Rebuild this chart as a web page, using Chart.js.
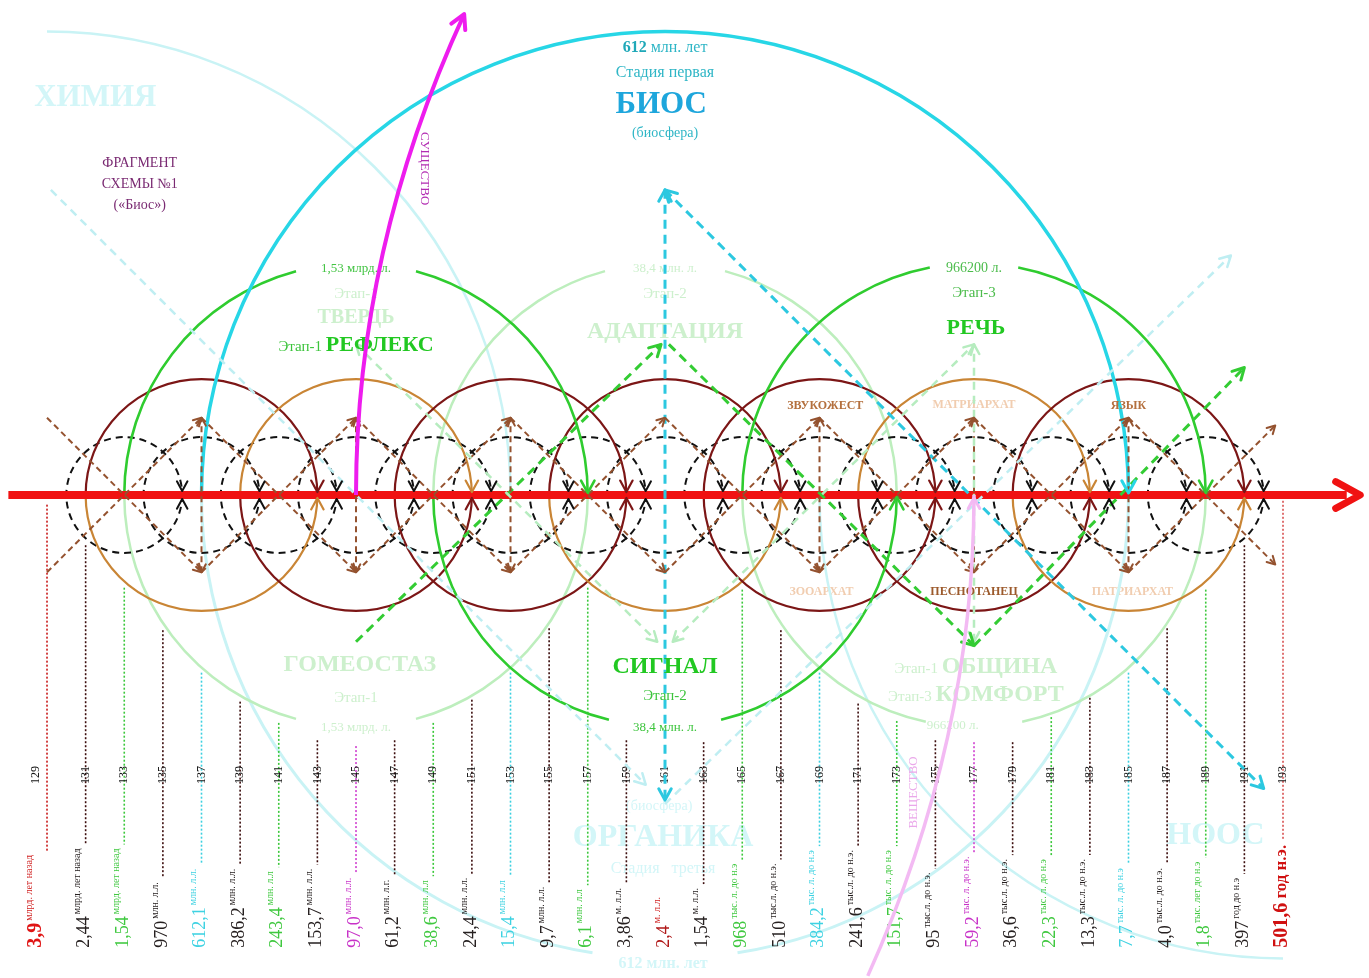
<!DOCTYPE html>
<html lang="ru">
<head>
<meta charset="utf-8">
<title>Фрагмент схемы №1 «Биос»</title>
<script src="https://cdn.jsdelivr.net/npm/chart.js@4.4.1/dist/chart.umd.min.js"></script>
<style>
  html, body { margin: 0; padding: 0; background: #fff; }
  canvas { display: block; }
</style>
</head>
<body>
<canvas id="scheme" width="1369" height="978"></canvas>
<script>
const tickValues = [129, 131, 133, 135, 137, 139, 141, 143, 145, 147, 149, 151, 153, 155, 157, 159, 161,
                    163, 165, 167, 169, 171, 173, 175, 177, 179, 181, 183, 185, 187, 189, 191, 193]

// where each dotted drop line starts below the axis (null = drawn as the cyan arrow)
const lineTops = [-0.5, -2.6, -4.8, -7, -9.2, -10.7, -11.8, -12.7, -13, -12.7, -11.8, -10.6, -9.2, -6.9, -4.8, -12.7, null,
                  -12.8, -4.9, -7, -9.2, -10.8, -11.7, -12.7, -12.8, -12.8, -11.5, -10.5, -9.2, -6.9, -4.9, -2.6, -0.3]

const bigNumbers = ['3,9', '2,44', '1,54', '970', '612,1', '386,2', '243,4', '153,7', '97,0', '61,2', '38,6',
                    '24,4', '15,4', '9,7', '6,1', '3,86', '2,4', '1,54', '968', '510', '384,2', '241,6', '151,7',
                    '95', '59,2', '36,6', '22,3', '13,3', '7,7', '4,0', '1,8', '397', '501,6']

const unitLabels = ['млрд. лет назад', 'млрд. лет назад', 'млрд. лет назад', 'млн. л.л.', 'млн. л.л.', 'млн. л.л.',
                    'млн. л.л', 'млн. л.л.', 'млн. л.л.', 'млн. л.г.', 'млн. л.л', 'млн. л.л.', 'млн. л.л', 'млн. л.л.',
                    'млн. л.л', 'м. л.л.', 'м. л.л.', 'м. л.л.', 'тыс. л. до н.э', 'тыс.л. до н.э.', 'тыс. л. до н.э',
                    'тыс.л. до н.э.', 'тыс. л. до н.э', 'тыс.л. до н.э.', 'тыс. л. до н.э.', 'тыс.л. до н.э.',
                    'тыс. л. до н.э', 'тыс.л. до н.э.', 'тыс. л. до н.э', 'тыс.л. до н.э.', 'тыс. лет до н.э',
                    'год до н.э', 'год н.э.']

const RED = '#e01414', DARK = '#262020', GRN = '#3fc83f', CYN = '#3ed2e2', MAG = '#c832c8'
const labelColors = [RED, DARK, GRN, DARK, CYN, DARK, GRN, DARK, MAG, DARK, GRN, DARK, CYN, DARK, GRN, DARK, '#b01818',
                     DARK, GRN, DARK, CYN, DARK, GRN, DARK, MAG, DARK, GRN, DARK, CYN, DARK, GRN, DARK, '#d01010']
const LDK = '#3c0d0d'
const lineColors = ['#c81818', LDK, '#3cc83c', LDK, '#3cd0e0', LDK, '#3cc83c', LDK, '#d040d0', LDK, '#3cc83c', LDK,
                    '#3cd0e0', LDK, '#3cc83c', LDK, '#2cc8e0', LDK, '#3cc83c', LDK, '#3cd0e0', LDK, '#3cc83c', LDK,
                    '#d040d0', LDK, '#3cc83c', LDK, '#3cd0e0', LDK, '#3cc83c', LDK, '#d85050']

// black dashed rings on the axis
const ringCenters = [133, 137, 141, 145, 149, 153, 157, 161, 165, 169, 173, 177, 181, 185, 189]
const ringRadius = 3

// maroon / orange wave circles
const waveCenters = [137, 145, 153, 161, 169, 177, 185]
const waveRadius = 6
const waveTop = ['m', 'o', 'm', 'm', 'm', 'o', 'm']
const waveBottom = ['o', 'm', 'm', 'o', 'm', 'm', 'o']

// green stage circles (Этап)
const stageCenters = [145, 161, 177]
const stageRadius = 12
const stageTopBright = [true, false, true]
const stageGapTop = [15, 15, 11]
const stageGapBottom = [15, 14, 12]

// large cyan spheres: ХИМИЯ, БИОС, НООС
const sphereCenters = [129, 161, 193]
const sphereRadius = 24

// dashed straight links [x0, y0, x1, y1]
const brownDiagonals = [
  [129, 4, 137, -4], [129, -4, 137, 4], [137, 4, 145, -4], [137, -4, 145, 4],
  [145, 4, 153, -4], [145, -4, 153, 4], [153, 4, 161, -4], [153, -4, 161, 4],
  [161, 4, 169, -4], [161, -4, 169, 4], [169, 4, 177, -4], [169, -4, 177, 4],
  [177, 4, 185, -4], [177, -4, 185, 4], [185, 4, 192.6, -3.6], [185, -4, 192.6, 3.6]
]
const brownVerticals = [[137, -4, 137, 4], [145, -4, 145, 4], [153, -4, 153, 4], [169, -4, 169, 4],
                        [177, -4, 177, 4], [185, -4, 185, 4]]
const greenLinks = [[145, -7.6, 160.8, 7.8], [161.2, 7.8, 177, -7.8], [177, -7.8, 191, 6.6]]
const paleGreenLinks = [[145, 7.8, 160.6, -7.6], [161.4, -7.6, 177, 7.8], [177, -7.6, 177, 7.8]]
const cyanLinks = [[161, 15.8, 192, -15.2], [161, 15.8, 161, -15.8]]
const paleCyanLinks = [[129.2, 15.8, 160, -15], [161, -16, 190.3, 12.4]]

// curves: start, control, end
const substanceCurve = [145, 0, 145, 12.7, 150.6, 24.9]     // СУЩЕСТВО
const matterCurve = [177, 0, 177, -12.7, 171.5, -24.9]       // ВЕЩЕСТВО

// ---- layout / styles ----
const X_MIN = 126.566, X_MAX = 197.453, Y_MIN = -25.01, Y_MAX = 25.631
const SERIF = '"Liberation Serif", "DejaVu Serif", serif'
const MAROON = '#7c1616', ORANGE = '#c98535'
const BRIGHT_GREEN = '#2fcc2f', PALE_GREEN = '#bdeebd'
const PALE_CYAN = '#c9f3f5', TEAL = '#2fb6c6'
const FAINT_GREEN = '#cdf0cd', FAINT_CYAN = '#d3f6f8'

const annotations = [
  { x: 161, y: 23.2, parts: [['612', 'bold 16px', '#1fa8b8'], [' млн. лет', '16px', TEAL]] },
  { x: 161, y: 21.9, parts: [['Стадия первая', '16px', TEAL]] },
  { x: 160.8, y: 20.3, parts: [['БИОС', 'bold 31px', '#1ea6dc']] },
  { x: 161, y: 18.8, parts: [['(биосфера)', '14px', TEAL]] },
  { x: 133.8, y: 17.24, parts: [['ФРАГМЕНТ', '14px', '#7a2a72']] },
  { x: 133.8, y: 16.16, parts: [['СХЕМЫ №1', '14px', '#7a2a72']] },
  { x: 133.8, y: 15.07, parts: [['(«Биос»)', '14px', '#7a2a72']] },
  { x: 145, y: 11.8, parts: [['1,53 млрд. л.', '13px', '#44c444']] },
  { x: 145, y: 7.85, parts: [['Этап-1 ', '15px', '#3cc43c'], ['РЕФЛЕКС', 'bold 22px', '#22c822']] },
  { x: 177, y: 11.8, parts: [['966200 л.', '14px', '#4cbc4c']] },
  { x: 177, y: 10.5, parts: [['Этап-3', '15px', '#4cbc4c']] },
  { x: 177.1, y: 8.7, parts: [['РЕЧЬ', 'bold 22px', '#22c822']] },
  { x: 169.3, y: 4.66, parts: [['ЗВУКОЖЕСТ', 'bold 12px', '#b4703e']] },
  { x: 185, y: 4.66, parts: [['ЯЗЫК', 'bold 12px', '#b4703e']] },
  { x: 177, y: -4.97, parts: [['ПЕСНОТАНЕЦ', 'bold 12px', '#9c5a2c']] },
  { x: 161, y: -8.8, parts: [['СИГНАЛ', 'bold 24px', '#22c822']] },
  { x: 161, y: -10.36, parts: [['Этап-2', '15px', '#3cc43c']] },
  { x: 161, y: -12.0, parts: [['38,4 млн. л.', '13px', '#3cc43c']] }
]
const faintAnnotations = [
  { x: 131.5, y: 20.7, parts: [['ХИМИЯ', 'bold 31px', FAINT_CYAN]] },
  { x: 145, y: 10.46, parts: [['Этап-1', '15px', FAINT_GREEN]] },
  { x: 145, y: 9.27, parts: [['ТВЕРДЬ', 'bold 20px', FAINT_GREEN]] },
  { x: 161, y: 11.8, parts: [['38,4 млн. л.', '13px', FAINT_GREEN]] },
  { x: 161, y: 10.46, parts: [['Этап-2', '15px', FAINT_GREEN]] },
  { x: 161, y: 8.54, parts: [['АДАПТАЦИЯ', 'bold 24px', FAINT_GREEN]] },
  { x: 177, y: 4.7, parts: [['МАТРИАРХАТ', 'bold 12px', '#f1cdb0']] },
  { x: 169.1, y: -4.97, parts: [['ЗООАРХАТ', 'bold 12px', '#f1cdb0']] },
  { x: 185.2, y: -4.97, parts: [['ПАТРИАРХАТ', 'bold 12px', '#f1cdb0']] },
  { x: 145.2, y: -8.7, parts: [['ГОМЕОСТАЗ', 'bold 24px', FAINT_GREEN]] },
  { x: 145, y: -10.46, parts: [['Этап-1', '15px', FAINT_GREEN]] },
  { x: 145, y: -12.0, parts: [['1,53 млрд. л.', '13px', FAINT_GREEN]] },
  { x: 177.1, y: -8.8, parts: [['Этап-1 ', '15px', FAINT_GREEN], ['ОБЩИНА', 'bold 24px', FAINT_GREEN]] },
  { x: 177.1, y: -10.25, parts: [['Этап-3 ', '15px', FAINT_GREEN], ['КОМФОРТ', 'bold 24px', FAINT_GREEN]] },
  { x: 175.9, y: -11.9, parts: [['966200 л.', '13px', FAINT_GREEN]] },
  { x: 160.7, y: -16.05, parts: [['(биосфера)', '14px', FAINT_CYAN]] },
  { x: 160.9, y: -17.6, parts: [['ОРГАНИКА', 'bold 32px', FAINT_CYAN]] },
  { x: 160.9, y: -19.3, parts: [['Стадия   третья', '16px', FAINT_CYAN]] },
  { x: 160.9, y: -24.2, parts: [['612 млн. лет', 'bold 16px', FAINT_CYAN]] },
  { x: 189.5, y: -17.5, parts: [['НООС', 'bold 32px', FAINT_CYAN]] }
]

const linkGroups = [
  { segs: paleCyanLinks, color: '#bfeef2', width: 2.5, dash: [8, 6], arrow: 'end', size: 12 },
  { segs: paleGreenLinks, color: '#b6ecbf', width: 2.5, dash: [8, 6], arrow: 'both', size: 11 },
  { segs: brownDiagonals, color: '#94522f', width: 2, dash: [6, 4], arrow: 'end', size: 9 },
  { segs: brownVerticals, color: '#94522f', width: 2, dash: [6, 4], arrow: 'both', size: 9 },
  { segs: greenLinks, color: '#33cc33', width: 3, dash: [9, 6], arrow: 'end', size: 13 },
  { segs: cyanLinks, color: '#2cc8e0', width: 3, dash: [9, 6], arrow: 'both', size: 13 }
]

const datasets = []
linkGroups.forEach(g => {
  g.segs.forEach(s => {
    datasets.push({
      data: [{ x: s[0], y: s[1] }, { x: s[2], y: s[3] }],
      showLine: true,
      borderColor: g.color,
      borderWidth: g.width,
      borderDash: g.dash,
      pointRadius: 0,
      fill: false,
      clip: false
    })
  })
})

function chevron(ctx, x, y, ang, size, color, width) {
  ctx.save()
  ctx.setLineDash([])
  ctx.strokeStyle = color
  ctx.lineWidth = width
  ctx.lineCap = 'round'
  ctx.lineJoin = 'round'
  ctx.beginPath()
  ctx.moveTo(x + size * Math.cos(ang + Math.PI - 0.5), y + size * Math.sin(ang + Math.PI - 0.5))
  ctx.lineTo(x, y)
  ctx.lineTo(x + size * Math.cos(ang + Math.PI + 0.5), y + size * Math.sin(ang + Math.PI + 0.5))
  ctx.stroke()
  ctx.restore()
}

function drawParts(ctx, parts, cx, cy, rot) {
  let maxSize = 0, total = 0
  parts.forEach(p => {
    ctx.font = p[1] + ' ' + SERIF
    maxSize = Math.max(maxSize, parseFloat(p[1].replace('bold ', '')))
    total += ctx.measureText(p[0]).width
  })
  ctx.save()
  ctx.translate(cx, cy)
  if (rot) ctx.rotate(rot)
  ctx.textBaseline = 'alphabetic'
  ctx.textAlign = 'left'
  let x = -total / 2
  parts.forEach(p => {
    ctx.font = p[1] + ' ' + SERIF
    ctx.fillStyle = p[2]
    ctx.fillText(p[0], x, maxSize * 0.34)
    x += ctx.measureText(p[0]).width
  })
  ctx.restore()
}

const schemePlugin = {
  id: 'scheme',
  beforeDraw(chart) {
    const ctx = chart.ctx
    ctx.save()
    ctx.fillStyle = '#fff'
    ctx.fillRect(0, 0, chart.width, chart.height)
    ctx.restore()
  },
  beforeDatasetsDraw(chart) {
    const ctx = chart.ctx
    const sx = chart.scales.x, sy = chart.scales.y
    const px = v => sx.getPixelForValue(v)
    const py = v => sy.getPixelForValue(v)
    const rad = (c, r) => px(c + r) - px(c)
    const D = Math.PI / 180
    const y0 = py(0)

    function arc(c, r, a0, a1, ccw, color, width, dash) {
      ctx.save()
      ctx.strokeStyle = color
      ctx.lineWidth = width
      ctx.setLineDash(dash || [])
      ctx.beginPath()
      ctx.arc(px(c), y0, rad(c, r), a0 * D, a1 * D, ccw)
      ctx.stroke()
      ctx.restore()
    }
    function upper(c, r, gap, color, width) {
      if (gap) { arc(c, r, 180, 270 - gap, false, color, width); arc(c, r, 270 + gap, 360, false, color, width) }
      else arc(c, r, 180, 360, false, color, width)
    }
    function lower(c, r, gap, color, width) {
      if (gap) { arc(c, r, 180, 90 + gap, true, color, width); arc(c, r, 90 - gap, 0, true, color, width) }
      else arc(c, r, 180, 0, true, color, width)
    }

    // faint text underneath everything
    faintAnnotations.forEach(a => drawParts(ctx, a.parts, px(a.x), py(a.y)))

    // faint cyan spheres
    arc(sphereCenters[0], sphereRadius, 270, 360, false, PALE_CYAN, 2.5)
    lower(sphereCenters[1], sphereRadius, 9, PALE_CYAN, 3)
    arc(sphereCenters[2], sphereRadius, 90, 180, false, PALE_CYAN, 2.5)

    // pale halves of the stage circles
    stageCenters.forEach((c, i) => {
      if (stageTopBright[i]) lower(c, stageRadius, stageGapBottom[i], PALE_GREEN, 2.5)
      else upper(c, stageRadius, stageGapTop[i], PALE_GREEN, 2.5)
    })

    // dotted drop lines and rotated labels
    const labelBase = py(-23.45)
    tickValues.forEach((v, i) => {
      const x = px(v)
      const lx = x + (i === 0 ? -11 : -1)
      const last = i === tickValues.length - 1
      ctx.save()
      ctx.translate(lx, labelBase)
      ctx.rotate(-Math.PI / 2)
      ctx.textAlign = 'left'
      ctx.textBaseline = 'middle'
      ctx.font = ((i === 0 || last) ? 'bold 20px ' : '18px ') + SERIF
      ctx.fillStyle = labelColors[i]
      ctx.fillText(bigNumbers[i], 0, 0)
      let len = ctx.measureText(bigNumbers[i]).width
      if (last) {
        ctx.font = 'bold 17px ' + SERIF
        ctx.fillText(' ' + unitLabels[i], len, 0)
        len += ctx.measureText(' ' + unitLabels[i]).width
      } else {
        ctx.font = '10px ' + SERIF
        ctx.fillStyle = (i === 0 || i === 16) ? '#d02020' : labelColors[i]
        ctx.fillText(unitLabels[i], len + 2, -7)
        len += 2 + ctx.measureText(unitLabels[i]).width
      }
      ctx.restore()

      if (lineTops[i] !== null) {
        ctx.save()
        ctx.strokeStyle = lineColors[i]
        ctx.lineWidth = 1.6
        ctx.setLineDash([2, 2])
        ctx.beginPath()
        ctx.moveTo(x, py(lineTops[i]))
        ctx.lineTo(x, labelBase - len - 4)
        ctx.stroke()
        ctx.restore()
      }

      ctx.save()
      ctx.translate(i === 0 ? x - 11 : x, py(-14.5))
      ctx.rotate(-Math.PI / 2)
      ctx.textAlign = 'center'
      ctx.textBaseline = 'middle'
      ctx.font = '12px ' + SERIF
      ctx.fillStyle = '#111'
      ctx.fillText(String(v), 0, 0)
      ctx.restore()
    })

    // black dashed rings
    ringCenters.forEach(c => {
      ctx.save()
      ctx.strokeStyle = '#111'
      ctx.lineWidth = 2
      ctx.setLineDash([7, 5])
      ctx.beginPath()
      ctx.arc(px(c), y0, rad(c, ringRadius), 0, 2 * Math.PI)
      ctx.stroke()
      ctx.restore()
    })

    // maroon / orange waves
    waveCenters.forEach((c, i) => {
      upper(c, waveRadius, 0, waveTop[i] === 'm' ? MAROON : ORANGE, 2.2)
      lower(c, waveRadius, 0, waveBottom[i] === 'm' ? MAROON : ORANGE, 2.2)
    })

    // bright halves of the stage circles
    stageCenters.forEach((c, i) => {
      if (stageTopBright[i]) upper(c, stageRadius, stageGapTop[i], BRIGHT_GREEN, 2.6)
      else lower(c, stageRadius, stageGapBottom[i], BRIGHT_GREEN, 2.6)
    })

    // БИОС upper arc
    upper(sphereCenters[1], sphereRadius, 0, '#27d6e6', 3.5)

    // red time axis
    ctx.save()
    ctx.strokeStyle = '#f01212'
    ctx.lineWidth = 8
    ctx.beginPath()
    ctx.moveTo(px(127.0), y0)
    ctx.lineTo(px(196.3), y0)
    ctx.stroke()
    ctx.restore()
    chevron(ctx, px(197), y0, 0, 28, '#f01212', 7)
  },
  afterDatasetsDraw(chart) {
    const ctx = chart.ctx
    const sx = chart.scales.x, sy = chart.scales.y
    const px = v => sx.getPixelForValue(v)
    const py = v => sy.getPixelForValue(v)
    const y0 = py(0)

    // arrowheads of the dashed links
    linkGroups.forEach(g => {
      g.segs.forEach(s => {
        const ax = px(s[0]), ay = py(s[1]), bx = px(s[2]), by = py(s[3])
        const ang = Math.atan2(by - ay, bx - ax)
        chevron(ctx, bx, by, ang, g.size, g.color, g.width)
        if (g.arrow === 'both') chevron(ctx, ax, ay, ang + Math.PI, g.size, g.color, g.width)
      })
    })

    // arrowheads where arcs land on the axis
    ringCenters.forEach(c => {
      const x = px(c + ringRadius)
      chevron(ctx, x, y0 - 4, Math.PI / 2, 11, '#111', 2)
      chevron(ctx, x, y0 + 4, -Math.PI / 2, 11, '#111', 2)
    })
    waveCenters.forEach((c, i) => {
      const x = px(c + waveRadius)
      chevron(ctx, x, y0 - 3, Math.PI / 2, 13, waveTop[i] === 'm' ? MAROON : ORANGE, 2.2)
      chevron(ctx, x, y0 + 3, -Math.PI / 2, 13, waveBottom[i] === 'm' ? MAROON : ORANGE, 2.2)
    })
    stageCenters.forEach((c, i) => {
      const x = px(c + stageRadius)
      if (stageTopBright[i]) chevron(ctx, x, y0 - 2, Math.PI / 2, 14, BRIGHT_GREEN, 2.6)
      else chevron(ctx, x, y0 + 2, -Math.PI / 2, 14, BRIGHT_GREEN, 2.6)
    })
    chevron(ctx, px(sphereCenters[1] + sphereRadius), y0 - 2, Math.PI / 2, 14, '#27d6e6', 3)

    // strong text
    annotations.forEach(a => drawParts(ctx, a.parts, px(a.x), py(a.y)))
    drawParts(ctx, [['СУЩЕСТВО', '13px', '#b22cb2']], px(148.6), py(16.9), Math.PI / 2)
    drawParts(ctx, [['ВЕЩЕСТВО', '13px', '#eaa8ea']], px(173.8), py(-15.4), -Math.PI / 2)

    // СУЩЕСТВО and ВЕЩЕСТВО curves
    function curve(c, color, width) {
      ctx.save()
      ctx.strokeStyle = color
      ctx.lineWidth = width
      ctx.beginPath()
      ctx.moveTo(px(c[0]), py(c[1]))
      ctx.quadraticCurveTo(px(c[2]), py(c[3]), px(c[4]), py(c[5]))
      ctx.stroke()
      ctx.restore()
    }
    curve(matterCurve, '#f3baf3', 3.5)
    chevron(ctx, px(matterCurve[0]), py(matterCurve[1]) + 3, -Math.PI / 2, 12, '#f3baf3', 3)
    curve(substanceCurve, '#ee1cee', 4)
    const c = substanceCurve
    chevron(ctx, px(c[4]), py(c[5]), Math.atan2(py(c[5]) - py(c[3]), px(c[4]) - px(c[2])), 16, '#ee1cee', 4)
  }
}

new Chart(document.getElementById('scheme').getContext('2d'), {
  type: 'scatter',
  data: { datasets: datasets },
  options: {
    responsive: false,
    animation: false,
    events: [],
    layout: { padding: 0 },
    plugins: {
      legend: { display: false },
      tooltip: { enabled: false }
    },
    scales: {
      x: { type: 'linear', display: false, min: X_MIN, max: X_MAX },
      y: { type: 'linear', display: false, min: Y_MIN, max: Y_MAX }
    }
  },
  plugins: [schemePlugin]
})
</script>
</body>
</html>
